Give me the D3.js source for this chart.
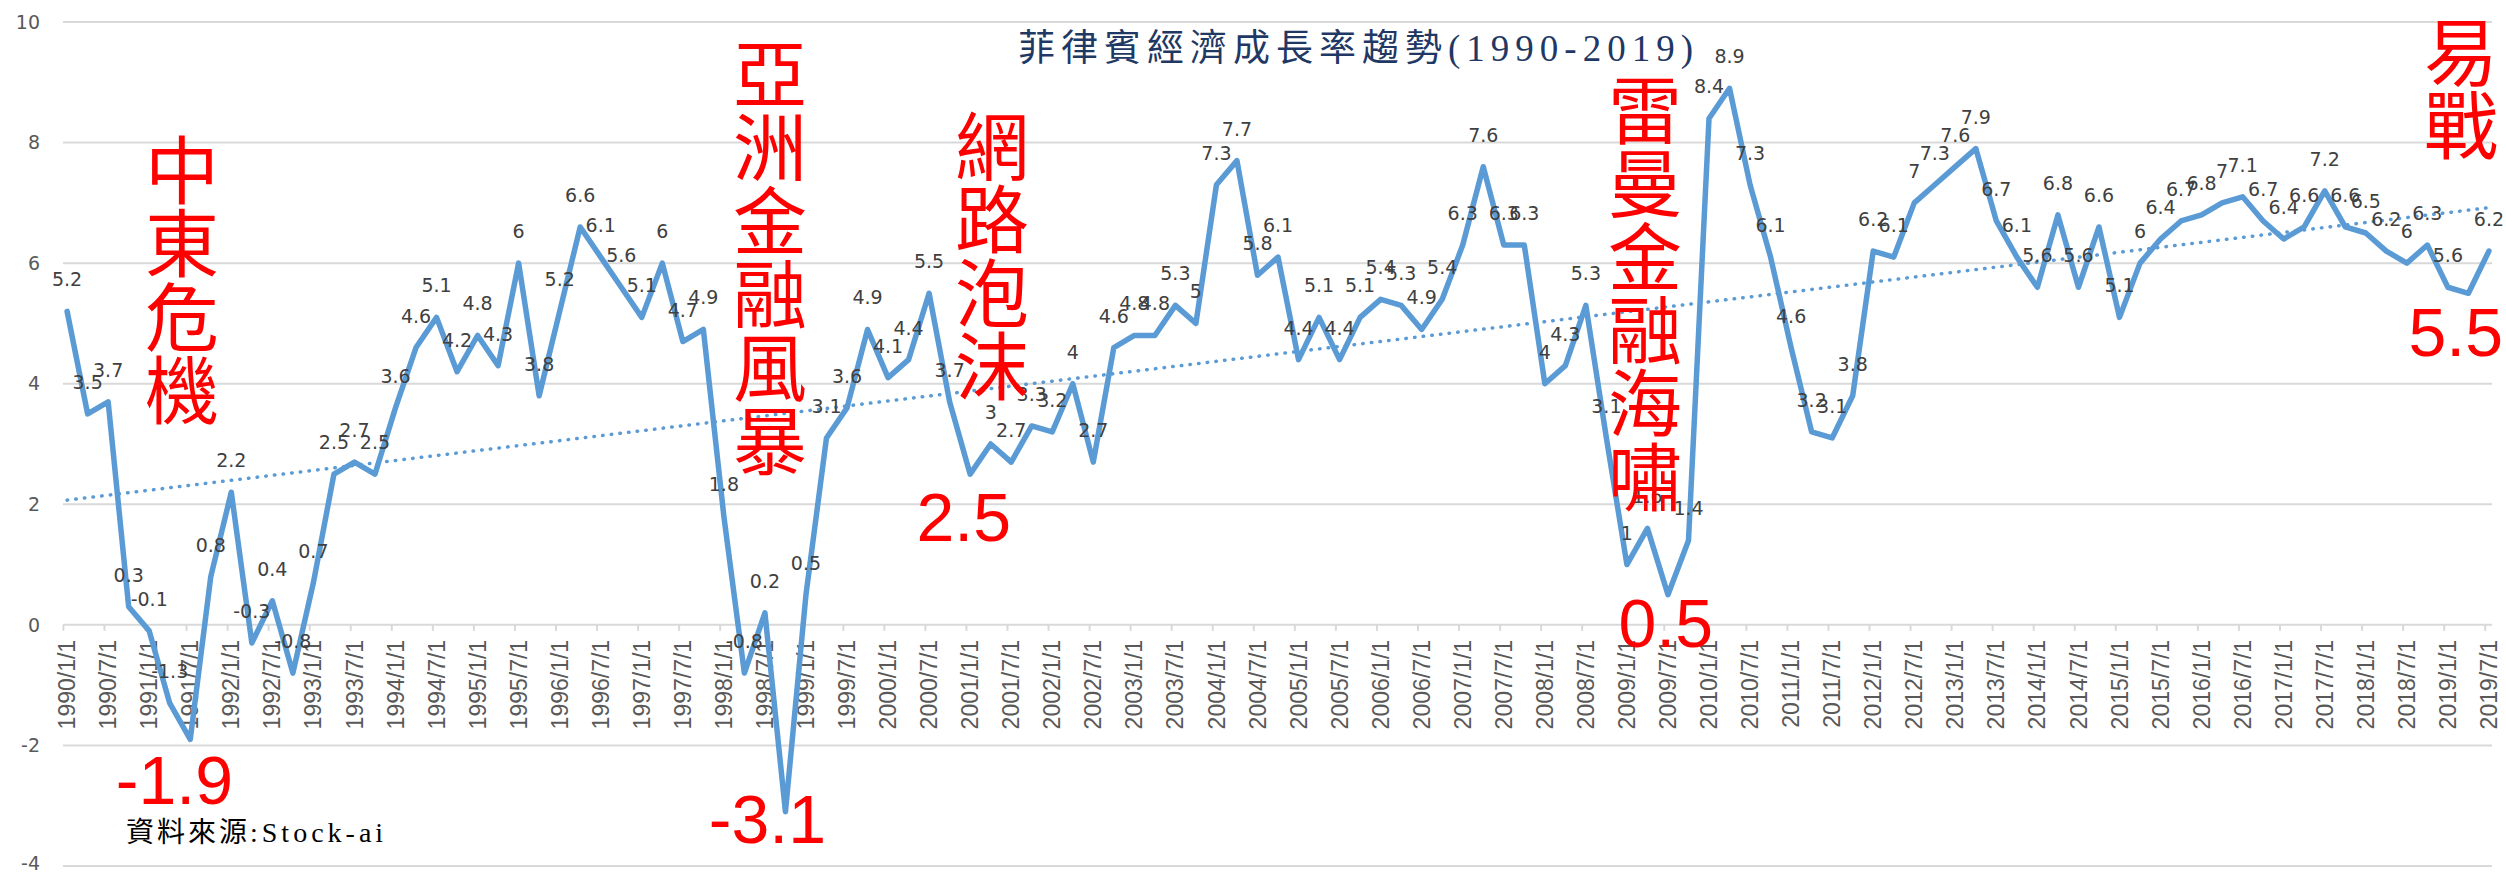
<!DOCTYPE html>
<html lang="zh-Hant">
<head>
<meta charset="UTF-8">
<title>菲律賓經濟成長率趨勢(1990-2019)</title>
<script src="https://d3js.org/d3.v7.min.js"></script>
<style>
  body { margin: 0; background: #fff; }
  svg { display: block; }
</style>
</head>
<body>
<div id="chart"></div>
<script>
// quarterly real GDP growth (%), 1990 Q1 .. 2019 Q3
const years = [1990, 1991, 1992, 1993, 1994, 1995, 1996, 1997, 1998, 1999,
               2000, 2001, 2002, 2003, 2004, 2005, 2006, 2007, 2008, 2009,
               2010, 2011, 2012, 2013, 2014, 2015, 2016, 2017, 2018, 2019];
const quarterMonths = [1, 4, 7, 10];
const growth = [
  5.2, 3.5, 3.7, 0.3,    // 1990
  -0.1, -1.3, -1.9, 0.8, // 1991
  2.2, -0.3, 0.4, -0.8,  // 1992
  0.7, 2.5, 2.7, 2.5,    // 1993
  3.6, 4.6, 5.1, 4.2,    // 1994
  4.8, 4.3, 6, 3.8,      // 1995
  5.2, 6.6, 6.1, 5.6,    // 1996
  5.1, 6, 4.7, 4.9,      // 1997
  1.8, -0.8, 0.2, -3.1,  // 1998
  0.5, 3.1, 3.6, 4.9,    // 1999
  4.1, 4.4, 5.5, 3.7,    // 2000
  2.5, 3, 2.7, 3.3,      // 2001
  3.2, 4, 2.7, 4.6,      // 2002
  4.8, 4.8, 5.3, 5,      // 2003
  7.3, 7.7, 5.8, 6.1,    // 2004
  4.4, 5.1, 4.4, 5.1,    // 2005
  5.4, 5.3, 4.9, 5.4,    // 2006
  6.3, 7.6, 6.3, 6.3,    // 2007
  4, 4.3, 5.3, 3.1,      // 2008
  1, 1.6, 0.5, 1.4,      // 2009
  8.4, 8.9, 7.3, 6.1,    // 2010
  4.6, 3.2, 3.1, 3.8,    // 2011
  6.2, 6.1, 7, 7.3,      // 2012
  7.6, 7.9, 6.7, 6.1,    // 2013
  5.6, 6.8, 5.6, 6.6,    // 2014
  5.1, 6, 6.4, 6.7,      // 2015
  6.8, 7, 7.1, 6.7,      // 2016
  6.4, 6.6, 7.2, 6.6,    // 2017
  6.5, 6.2, 6, 6.3,      // 2018
  5.6, 5.5, 6.2          // 2019
];
const yTicks = [-4, -2, 0, 2, 4, 6, 8, 10];

// events called out in red (index into growth)
const eventIdx = [6, 35, 44, 78, 117];
const eventNames = ["中東危機", "亞洲金融風暴", "網路泡沫", "雷曼金融海嘯", "易戰"];

const title = "菲律賓經濟成長率趨勢(1990-2019)";
const sourceLabel = "資料來源";
const sourceName = ":Stock-ai";

// where the red callouts sit on the page (numbers are anchored at their right edge)
const noteLayout = [
  { cx: 182,  top: 165, numX: 233,  numY: 804 },
  { cx: 770,  top: 69,  numX: 826,  numY: 843 },
  { cx: 992,  top: 141, numX: 1011, numY: 541 },
  { cx: 1645, top: 105, numX: 1713, numY: 647 },
  { cx: 2461, top: 47,  numX: 2503, numY: 356 }
];

const width = 2506, height = 875;
const blue = "#5B9BD5", grid = "#D9D9D9";

const dates = years.flatMap(yr => quarterMonths.map(m => `${yr}/${m}/1`)).slice(0, growth.length);
const n = growth.length;

const svg = d3.select("#chart").append("svg")
  .attr("width", width)
  .attr("height", height)
  .style("background", "#fff");

const x = d3.scaleLinear().domain([-0.2, n - 1 + 0.15]).range([63, 2492]);
const y = d3.scaleLinear().domain([-4, 10]).range([866, 22]);

// gridlines
svg.append("g").selectAll("line")
  .data(yTicks)
  .join("line")
  .attr("x1", x.range()[0]).attr("x2", x.range()[1])
  .attr("y1", d => y(d)).attr("y2", d => y(d))
  .attr("stroke", grid)
  .attr("stroke-width", 2);

// y labels
svg.append("g").selectAll("text")
  .data(yTicks)
  .join("text")
  .attr("x", 40)
  .attr("y", d => Math.min(y(d), height - 12))
  .attr("dy", "0.35em")
  .attr("text-anchor", "end")
  .style("font-family", "'DejaVu Sans', sans-serif")
  .style("font-size", "19px")
  .style("fill", "#595959")
  .text(d => d);

// category axis at 0: ticks every half year
const tickIdx = d3.range(0, n, 2);
svg.append("g").selectAll("line")
  .data(tickIdx)
  .join("line")
  .attr("x1", i => x(i - 0.18)).attr("x2", i => x(i - 0.18))
  .attr("y1", y(0)).attr("y2", y(0) + 6)
  .attr("stroke", grid)
  .attr("stroke-width", 2);

svg.append("g").selectAll("text")
  .data(tickIdx)
  .join("text")
  .attr("transform", i => `translate(${x(i)},${y(0) + 15}) rotate(-90)`)
  .attr("dy", "0.35em")
  .attr("text-anchor", "end")
  .style("font-family", "'Liberation Sans', Arial, sans-serif")
  .style("font-size", "23px")
  .style("fill", "#595959")
  .text(i => dates[i]);

// series
const line = d3.line()
  .x((d, i) => x(i))
  .y(d => y(d));

svg.append("path")
  .datum(growth)
  .attr("d", line)
  .attr("fill", "none")
  .attr("stroke", blue)
  .attr("stroke-width", 5.5)
  .attr("stroke-linejoin", "round")
  .attr("stroke-linecap", "round");

// linear trend (least squares)
const idx = d3.range(n);
const mx = d3.mean(idx), my = d3.mean(growth);
const slope = d3.sum(idx, i => (i - mx) * (growth[i] - my)) / d3.sum(idx, i => (i - mx) ** 2);
const icept = my - slope * mx;

svg.append("line")
  .attr("x1", x(0)).attr("y1", y(icept))
  .attr("x2", x(n - 1)).attr("y2", y(icept + slope * (n - 1)))
  .attr("stroke", blue)
  .attr("stroke-width", 3.5)
  .attr("stroke-linecap", "round")
  .attr("stroke-dasharray", "0.5,8.2");

// data labels (event points get the big red number instead)
svg.append("g").selectAll("text")
  .data(idx.filter(i => !eventIdx.includes(i)))
  .join("text")
  .attr("x", i => x(i))
  .attr("y", i => y(growth[i]) - 25)
  .attr("text-anchor", "middle")
  .style("font-family", "'DejaVu Sans', sans-serif")
  .style("font-size", "19px")
  .style("fill", "#404040")
  .text(i => growth[i]);

// red callouts
const notes = svg.append("g");
eventIdx.forEach((ei, k) => {
  const pos = noteLayout[k];
  const t = notes.append("text")
    .attr("text-anchor", "middle")
    .attr("dominant-baseline", "central")
    .style("font-family", "'Noto Sans CJK TC', 'Noto Sans CJK SC', sans-serif")
    .style("font-size", "74px")
    .style("fill", "#FF0000");
  Array.from(eventNames[k]).forEach((ch, j) => {
    t.append("tspan")
      .attr("x", pos.cx)
      .attr("y", pos.top + j * 73.3)
      .text(ch);
  });

  notes.append("text")
    .attr("x", pos.numX)
    .attr("y", pos.numY)
    .attr("text-anchor", "end")
    .style("font-family", "'Liberation Sans', Arial, sans-serif")
    .style("font-size", "68px")
    .style("fill", "#FF0000")
    .text(growth[ei]);
});

// title
svg.append("text")
  .attr("x", 1018)
  .attr("y", 61)
  .style("font-family", "'Liberation Serif', 'Noto Sans CJK TC', serif")
  .style("font-size", "37px")
  .style("letter-spacing", "6px")
  .style("fill", "#1F3864")
  .text(title);

// source note
const src = svg.append("text")
  .attr("x", 126)
  .attr("y", 842)
  .style("fill", "#000");
src.append("tspan")
  .style("font-family", "'Noto Sans CJK TC', sans-serif")
  .style("font-size", "28px")
  .style("letter-spacing", "3px")
  .text(sourceLabel);
src.append("tspan")
  .style("font-family", "'Liberation Serif', serif")
  .style("font-size", "28px")
  .style("letter-spacing", "4px")
  .text(sourceName);
</script>
</body>
</html>
